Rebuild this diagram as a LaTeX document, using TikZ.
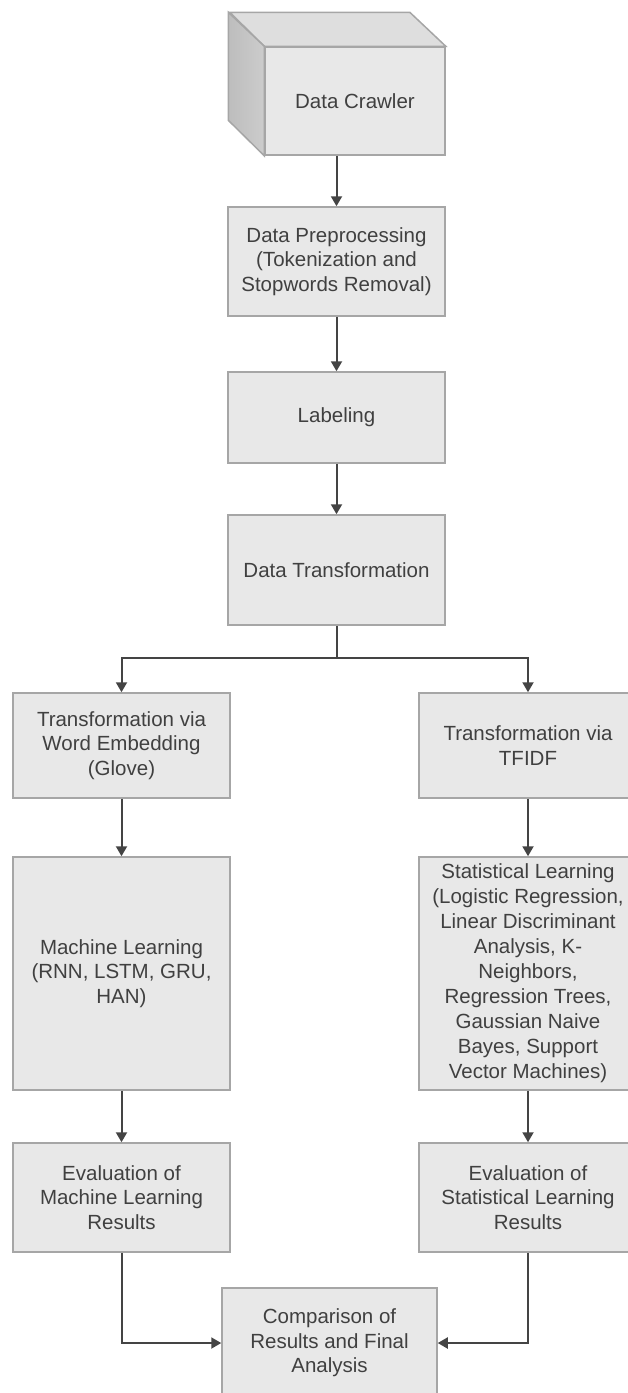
\documentclass[tikz,border=0pt]{standalone}
\usepackage{fontspec}
\setmainfont{Liberation Sans}
\usetikzlibrary{arrows.meta}
\definecolor{boxfill}{HTML}{E8E8E8}
\definecolor{boxline}{HTML}{A6A6A6}
\definecolor{txt}{HTML}{404040}
\definecolor{arrowc}{HTML}{444444}
\definecolor{cubetop}{HTML}{DEDEDE}
\definecolor{cubeside}{HTML}{CCCCCC}
\definecolor{cubesidedark}{HTML}{BDBDBD}
\tikzset{
  stepbox/.style={draw=boxline, fill=boxfill, line width=1.5pt, inner sep=0pt,
    align=center, text=txt, font=\fontsize{20.5}{24.5}\selectfont},
  conn/.style={draw=arrowc, line width=2pt, -{Triangle[length=10pt,width=11pt]}},
  plain/.style={draw=arrowc, line width=2pt}
}
\begin{document}
\begin{tikzpicture}[x=1pt,y=-1pt]
\useasboundingbox (0,0) rectangle (628,1393);
\begin{scope}
\clip (0,0) rectangle (628,1393);
% cube front face
\node[stepbox, minimum width=180pt, minimum height=108pt] (crawler) at (355,101) {Data Crawler};
\draw[draw=boxline, fill=cubetop, line width=1.5pt] (crawler.north west) -- (crawler.north east) -- ++(-36,-34) -- ++(-180,0) -- cycle;
\draw[draw=boxline, left color=cubesidedark, right color=cubeside, line width=1.5pt] (crawler.north west) -- ++(-36,-34) -- ++(0,108) -- (crawler.south west) -- cycle;

\node[stepbox, minimum width=217pt, minimum height=109pt] (pre) at (336.5,261.5) {Data Preprocessing\\(Tokenization and\\Stopwords Removal)};
\node[stepbox, minimum width=217pt, minimum height=91pt] (lab) at (336.5,417.5) {Labeling};
\node[stepbox, minimum width=217pt, minimum height=110pt] (dt) at (336.5,570) {Data Transformation};

\node[stepbox, minimum width=217pt, minimum height=105pt] (we) at (121.5,745.5) {Transformation via\\Word Embedding\\(Glove)};
\node[stepbox, minimum width=218pt, minimum height=105pt] (tf) at (528,745.5) {Transformation via\\TFIDF};

\node[stepbox, minimum width=217pt, minimum height=233pt] (ml) at (121.5,973.5) {Machine Learning\\(RNN, LSTM, GRU,\\HAN)};
\node[stepbox, minimum width=218pt, minimum height=233pt, font=\fontsize{20.5}{25}\selectfont] (sl) at (528,973.5) {Statistical Learning\\(Logistic Regression,\\Linear Discriminant\\Analysis, K-\\Neighbors,\\Regression Trees,\\Gaussian Naive\\Bayes, Support\\Vector Machines)};

\node[stepbox, minimum width=217pt, minimum height=109pt] (ev1) at (121.5,1197.5) {Evaluation of\\Machine Learning\\Results};
\node[stepbox, minimum width=218pt, minimum height=109pt] (ev2) at (528,1197.5) {Evaluation of\\Statistical Learning\\Results};

\node[stepbox, minimum width=215pt, minimum height=110pt] (cmp) at (329.5,1343) {Comparison of\\Results and Final\\Analysis};

\coordinate (split) at (336.5,658);

\draw[conn] (pre.north |- crawler.south) -- (pre.north);
\draw[conn] (pre.south) -- (lab.north);
\draw[conn] (lab.south) -- (dt.north);
\draw[plain] (dt.south) -- (split);
\draw[conn] (split) -| (we.north);
\draw[conn] (split) -| (tf.north);
\draw[conn] (we.south) -- (ml.north);
\draw[conn] (tf.south) -- (sl.north);
\draw[conn] (ml.south) -- (ev1.north);
\draw[conn] (sl.south) -- (ev2.north);
\draw[conn] (ev1.south) |- (cmp.west);
\draw[conn] (ev2.south) |- (cmp.east);
\end{scope}
\end{tikzpicture}
\end{document}
